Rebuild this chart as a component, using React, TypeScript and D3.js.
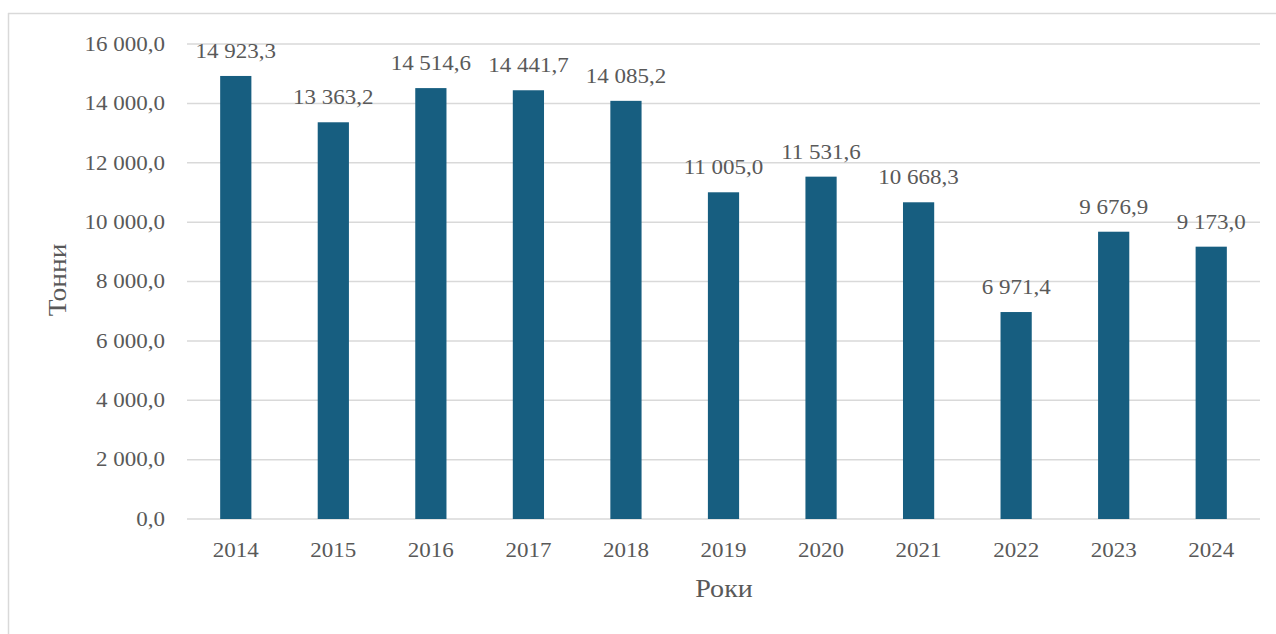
import React from "react";
import * as d3 from "d3";

const years = ["2014", "2015", "2016", "2017", "2018", "2019", "2020", "2021", "2022", "2023", "2024"];
const values = [14923.3, 13363.2, 14514.6, 14441.7, 14085.2, 11005.0, 11531.6, 10668.3, 6971.4, 9676.9, 9173.0];
const yTicks = [0, 2000, 4000, 6000, 8000, 10000, 12000, 14000, 16000];

const W = 1276;
const H = 634;
const left = 187;
const right = 1260;
const top = 44;
const bottom = 519;

const fmt = (v: number, dec = 1) => {
  const s = v.toFixed(dec);
  const [i, f] = s.split(".");
  const ii = i.replace(/\B(?=(\d{3})+(?!\d))/g, " ");
  return ii + "," + f;
};

const SX = 1.15;

export default function App() {
  const x = d3.scaleBand<string>().domain(years).range([left, right]).paddingInner(0.68).paddingOuter(0.34);
  const y = d3.scaleLinear().domain([0, 16000]).range([bottom, top]);
  const font = '"Liberation Serif", "DejaVu Serif", serif';
  const gray = "#595959";
  const ts = { fontFamily: font };
  const cx = (yr: string) => (x(yr) as number) + x.bandwidth() / 2;
  return (
    <svg width={W} height={H} style={{ position: "absolute", left: 0, top: 0, background: "#fff" }}>
      <rect x={0} y={0} width={W} height={H} fill="#fff" />
      <line x1={8.5} y1={13} x2={8.5} y2={H} stroke="#d9d9d9" strokeWidth={1.5} />
      <line x1={8} y1={13.5} x2={W} y2={13.5} stroke="#d9d9d9" strokeWidth={1.5} />
      {yTicks.map((t) => (
        <g key={t}>
          <line x1={left} x2={right} y1={y(t)} y2={y(t)} stroke="#d9d9d9" strokeWidth={1.5} />
          <text transform={`translate(165, ${y(t) + 6.8}) scale(${SX},1)`} textAnchor="end" fontSize={20} fill={gray} style={ts}>
            {fmt(t)}
          </text>
        </g>
      ))}
      {years.map((yr, i) => (
        <g key={yr}>
          <rect x={x(yr)} y={y(values[i])} width={x.bandwidth()} height={bottom - y(values[i])} fill="#175e80" />
          <text transform={`translate(${cx(yr)}, ${y(values[i]) - 18}) scale(${SX},1)`} textAnchor="middle" fontSize={20} fill={gray} style={ts}>
            {fmt(values[i])}
          </text>
          <text transform={`translate(${cx(yr)}, 557) scale(${SX},1)`} textAnchor="middle" fontSize={20} fill={gray} style={ts}>
            {yr}
          </text>
        </g>
      ))}
      <text transform={`translate(724, 597) scale(1.08,1)`} textAnchor="middle" fontSize={26} fill={gray} style={ts}>
        Роки
      </text>
      <text transform={`translate(66, 280) rotate(-90) scale(1.06,1)`} textAnchor="middle" fontSize={26} fill={gray} style={ts}>
        Тонни
      </text>
    </svg>
  );
}
